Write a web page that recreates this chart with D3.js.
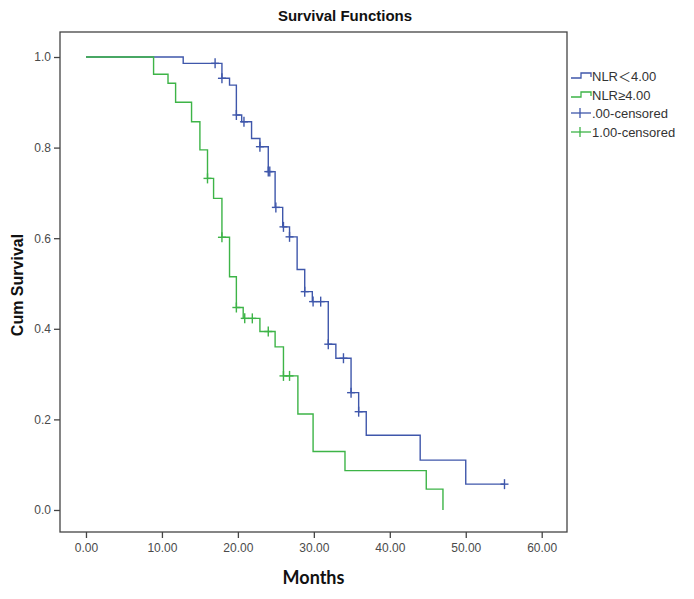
<!DOCTYPE html>
<html>
<head>
<meta charset="utf-8">
<script src="https://cdn.jsdelivr.net/npm/d3@7/dist/d3.min.js"></script>
<style>
  html, body { margin: 0; padding: 0; background: #fff; }
  svg { display: block; }
</style>
</head>
<body>
<div id="chart"></div>
<script>
// ---------- DATA ----------
const title = "Survival Functions";
const xLabel = "Months";
const yLabel = "Cum Survival";
const seriesNames = ["NLR＜4.00", "NLR≥4.00", ".00-censored", "1.00-censored"];

const xTicks = [0, 10, 20, 30, 40, 50, 60];
const yTicks = [0.0, 0.2, 0.4, 0.6, 0.8, 1.0];

// NLR < 4.00 : event times and survival after each step
const lowTimes = [0, 12.8, 17.9, 18.9, 19.8, 20.5, 21.8, 22.9, 24.0, 24.9, 25.9, 26.8, 27.8, 28.8, 29.8, 31.9, 32.9, 34.9, 35.9, 36.9, 44.0, 50.0];
const lowSurv  = [1.0, 0.986, 0.953, 0.938, 0.872, 0.857, 0.820, 0.802, 0.747, 0.668, 0.625, 0.603, 0.531, 0.482, 0.460, 0.366, 0.335, 0.259, 0.217, 0.165, 0.110, 0.057];
const lowEnd = 55.1;
const lowCensored = [17.0, 17.9, 19.8, 20.8, 22.9, 24.0, 24.2, 25.0, 26.0, 26.8, 28.8, 29.9, 30.9, 31.9, 33.9, 34.9, 35.9, 55.1];

// NLR >= 4.00
const highTimes = [0, 8.9, 10.8, 11.8, 13.9, 15.0, 16.0, 16.8, 17.9, 18.9, 19.8, 20.7, 22.9, 24.9, 26.0, 27.9, 29.9, 34.1, 44.8, 47.0];
const highSurv  = [1.0, 0.962, 0.942, 0.900, 0.857, 0.795, 0.732, 0.688, 0.602, 0.515, 0.447, 0.423, 0.394, 0.360, 0.296, 0.212, 0.129, 0.087, 0.046, 0.0];
const highEnd = 47.0;
const highCensored = [16.0, 17.9, 19.8, 20.9, 21.9, 24.0, 26.0, 26.8];

// ---------- LAYOUT ----------
const W = 694, H = 599;
const plot = { left: 60, right: 567, top: 32, bottom: 532 };
const blue = "#3f57ab", green = "#3db447";

const svg = d3.select("#chart").append("svg").attr("width", W).attr("height", H);

const x = d3.scaleLinear().domain([-3.42, 63.33]).range([plot.left, plot.right]);
const y = d3.scaleLinear().domain([-0.0486, 1.0552]).range([plot.bottom, plot.top]);

// frame
svg.append("rect")
  .attr("x", plot.left).attr("y", plot.top)
  .attr("width", plot.right - plot.left).attr("height", plot.bottom - plot.top)
  .attr("fill", "none").attr("stroke", "#444").attr("stroke-width", 1.3);

// axes
const xAxis = d3.axisBottom(x).tickValues(xTicks).tickFormat(d3.format(".2f")).tickSize(6).tickPadding(5);
const yAxis = d3.axisLeft(y).tickValues(yTicks).tickFormat(d3.format(".1f")).tickSize(6).tickPadding(3);

const gx = svg.append("g").attr("transform", `translate(0,${plot.bottom})`).call(xAxis);
const gy = svg.append("g").attr("transform", `translate(${plot.left},0)`).call(yAxis);
[gx, gy].forEach(g => {
  g.select(".domain").remove();
  g.selectAll(".tick line").attr("stroke", "#444").attr("stroke-width", 1.3);
  g.selectAll(".tick text").attr("fill", "#4a4a4a")
    .style("font-family", "Arial, 'Liberation Sans', sans-serif").style("font-size", "12px");
});

// survival lookup
function survAt(times, surv, t) {
  let s = surv[0];
  for (let i = 0; i < times.length; i++) if (times[i] <= t + 1e-9) s = surv[i];
  return s;
}

const line = d3.line().x(d => x(d[0])).y(d => y(d[1])).curve(d3.curveStepAfter);

function drawSeries(times, surv, end, censored, color) {
  const pts = times.map((t, i) => [t, surv[i]]);
  if (end > times[times.length - 1]) pts.push([end, surv[surv.length - 1]]);
  svg.append("path").datum(pts).attr("d", line)
    .attr("fill", "none").attr("stroke", color).attr("stroke-width", 1.4);
  const g = svg.append("g");
  censored.forEach(t => {
    const cx = x(t), cy = y(survAt(times, surv, t));
    g.append("line").attr("x1", cx).attr("x2", cx).attr("y1", cy - 5).attr("y2", cy + 5)
      .attr("stroke", color).attr("stroke-width", 1.4);
    g.append("line").attr("x1", cx - 4).attr("x2", cx + 4).attr("y1", cy).attr("y2", cy)
      .attr("stroke", color).attr("stroke-width", 1.4);
  });
}
drawSeries(lowTimes, lowSurv, lowEnd, lowCensored, blue);
drawSeries(highTimes, highSurv, highEnd, highCensored, green);

// title & axis labels
svg.append("text").attr("x", 345).attr("y", 21).attr("text-anchor", "middle")
  .style("font-family", "Arial, 'Liberation Sans', sans-serif").style("font-weight", "bold")
  .style("font-size", "15px").attr("fill", "#111").text(title);

svg.append("text").attr("transform", `translate(23,${(plot.top + plot.bottom) / 2 + 3}) rotate(-90)`)
  .attr("text-anchor", "middle")
  .style("font-family", "Arial, 'Liberation Sans', sans-serif").style("font-weight", "bold")
  .style("font-size", "16px").attr("fill", "#111").text(yLabel);

svg.append("text").attr("x", (plot.left + plot.right) / 2).attr("y", 584).attr("text-anchor", "middle")
  .style("font-family", "Lato, 'Open Sans', sans-serif").style("font-weight", "bold")
  .style("font-size", "18px").attr("fill", "#111").text(xLabel);

// legend
const lg = svg.append("g");
const rows = [78, 97, 113, 132];
const colors = [blue, green, blue, green];
rows.forEach((ry, i) => {
  if (i < 2) {
    lg.append("path")
      .attr("d", `M571,${ry} H581 V${ry - 5} H591 V${ry - 1}`)
      .attr("fill", "none").attr("stroke", colors[i]).attr("stroke-width", 1.3);
  } else {
    lg.append("line").attr("x1", 571).attr("x2", 591).attr("y1", ry).attr("y2", ry)
      .attr("stroke", colors[i]).attr("stroke-width", 1.3);
    lg.append("line").attr("x1", 580).attr("x2", 580).attr("y1", ry - 5).attr("y2", ry + 5)
      .attr("stroke", colors[i]).attr("stroke-width", 1.3);
  }
  lg.append("text").attr("x", 592).attr("y", ry + (i < 2 ? 3 : 4.5))
    .style("font-family", "Arial, 'Liberation Sans', 'Noto Sans CJK SC', sans-serif")
    .style("font-size", "13px").attr("fill", "#333").text(seriesNames[i]);
});
</script>
</body>
</html>
